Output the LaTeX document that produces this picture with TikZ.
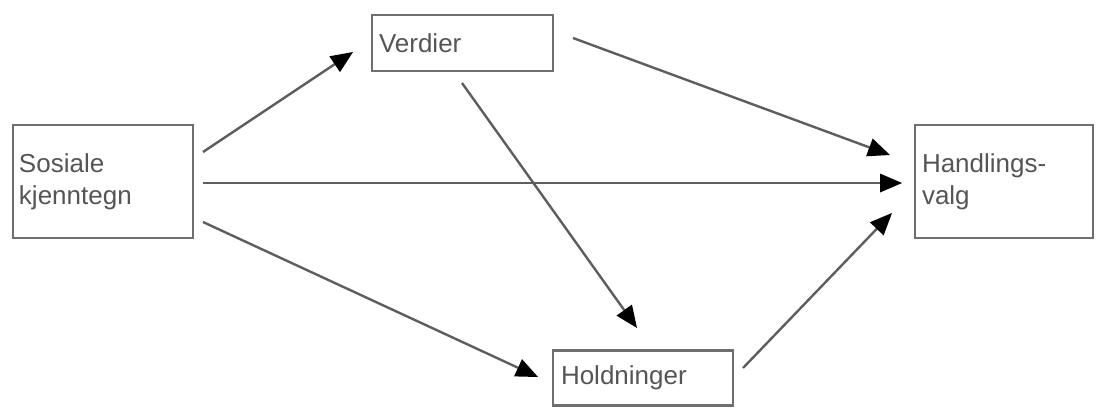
\documentclass[tikz,border=0pt]{standalone}
\usepackage{fontspec}
\setmainfont{Liberation Sans}
\usetikzlibrary{arrows.meta}
\definecolor{boxline}{HTML}{6E6E6E}
\definecolor{arrline}{HTML}{5E5E5E}
\definecolor{txt}{HTML}{555555}
\tikzset{
  box/.style={draw=boxline, line width=2.4pt, rectangle, align=left, text=txt,
    font=\fontsize{26}{32}\selectfont, anchor=center},
  conn/.style={draw=arrline, line width=2.4pt,
    -{Triangle[length=22pt,width=19pt,fill=black,line width=0pt]}}
}
\begin{document}
\begin{tikzpicture}[x=1pt,y=-1pt]
\useasboundingbox[fill=white] (0,0) rectangle (1096,408);
\node[box, minimum width=180, minimum height=113, text width=168, inner xsep=6] (sos) at (103,181.5) {Sosiale\\kjenntegn};
\node[box, minimum width=181, minimum height=56, text width=167, inner xsep=7] (ver) at (462.5,43) {Verdier};
\node[box, minimum width=178, minimum height=113, text width=164, inner xsep=7] (han) at (1004,181.5) {Handlings-\\valg};
\node[box, minimum width=180, minimum height=55, text width=164, inner xsep=8] (hol) at (643,378) {Holdninger};
% connector end points near the nodes
\coordinate (s1) at (203,152);
\coordinate (s2) at (203,183);
\coordinate (s3) at (203,222);
\coordinate (v1) at (353,52);
\coordinate (v2) at (573,38);
\coordinate (v3) at (462,83);
\coordinate (h1) at (890,155);
\coordinate (h2) at (902,183);
\coordinate (h3) at (892,213);
\coordinate (o1) at (538,377);
\coordinate (o2) at (637,328);
\coordinate (o3) at (743,368);
\draw[conn] (s1) -- (v1);
\draw[conn] (s2) -- (h2);
\draw[conn] (s3) -- (o1);
\draw[conn] (v2) -- (h1);
\draw[conn] (v3) -- (o2);
\draw[conn] (o3) -- (h3);
\end{tikzpicture}
\end{document}
